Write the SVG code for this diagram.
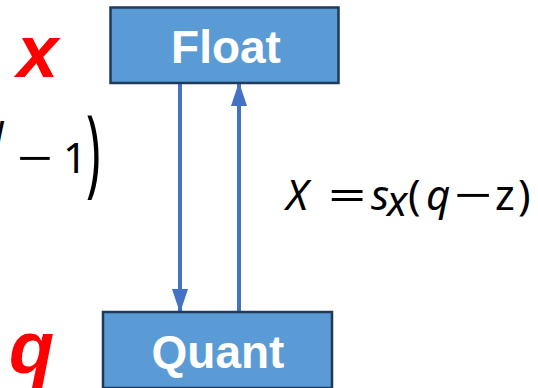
<svg xmlns="http://www.w3.org/2000/svg" width="538" height="388" viewBox="0 0 538 388">
<style>
.box{fill:#5B9BD5;stroke:#1F3A5A;stroke-width:2.5}
.lbl{font-family:"Liberation Sans",Arial,sans-serif;font-weight:bold;font-size:46px;fill:#FFFFFF;text-anchor:middle}
.red{font-family:"Liberation Sans",Arial,sans-serif;font-weight:bold;font-style:italic;font-size:74px;fill:#FF0000}
.math{font-family:"Noto Sans","Open Sans",sans-serif;font-size:42px;fill:#000000}
.it{font-style:italic}
.conn{stroke:#4472C4;stroke-width:4;fill:none}
</style>
<defs>
<marker id="ah" markerUnits="userSpaceOnUse" markerWidth="24" markerHeight="16" refX="24" refY="8" orient="auto" viewBox="0 0 24 16">
<path d="M0,0 L24,8 L0,16 Z" fill="#4472C4"/>
</marker>
</defs>
<g id="connectors">
<line class="conn" x1="180" y1="84" x2="180" y2="313" marker-end="url(#ah)"/>
<line class="conn" x1="239" y1="311" x2="239" y2="82" marker-end="url(#ah)"/>
</g>
<g id="float">
<rect class="box" x="110.5" y="7.5" width="228" height="75.5"/>
<text class="lbl" x="226" y="63">Float</text>
</g>
<g id="quant">
<rect class="box" x="103" y="312" width="229" height="76"/>
<text class="lbl" x="218" y="368">Quant</text>
</g>
<g id="labels">
<text class="red" x="17" y="77">x</text>
<text class="red" x="9" y="373">q</text>
</g>
<g id="formula-left">
<text class="math it" x="4" y="151" font-size="28" text-anchor="end">N</text>
<text class="math" transform="translate(17,173) scale(1.5,1)">−</text>
<text class="math" x="63" y="173">1</text>
<text class="math" transform="translate(86,185) scale(1.15,2.3)">)</text>
</g>
<g id="formula-right">
<text class="math it" x="286" y="210">X</text>
<text class="math" transform="translate(328,210) scale(1.6,1)">=</text>
<text class="math it" x="371" y="210">s</text>
<text class="math it" x="387" y="216" font-size="25">x</text>
<text class="math" x="408" y="210">(</text>
<text class="math it" x="426" y="210">q</text>
<text class="math" transform="translate(454,210) scale(1.6,1)">−</text>
<text class="math" x="495" y="210">z</text>
<text class="math" x="518" y="210">)</text>
</g>
</svg>
